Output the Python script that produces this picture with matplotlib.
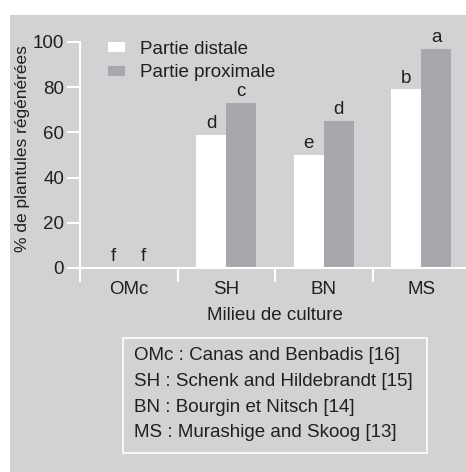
import matplotlib.pyplot as plt
from matplotlib.patches import Rectangle, Patch
import numpy as np

plt.rcParams['font.family'] = ['Liberation Sans', 'DejaVu Sans']

categories = ['OMc', 'SH', 'BN', 'MS']
distale = [0, 59, 50, 79]
proximale = [0, 73, 65, 97]
lettres_distale = ['f', 'd', 'e', 'b']
lettres_proximale = ['f', 'c', 'd', 'a']
references = ['OMc : Canas and Benbadis [16]',
              'SH : Schenk and Hildebrandt [15]',
              'BN : Bourgin et Nitsch [14]',
              'MS : Murashige and Skoog [13]']

bg = '#d1d2d4'
gris = '#a7a8ab'
txt = '#231f20'
W, H = 466, 472
fs = 13.5

fig = plt.figure(figsize=(W / 100, H / 100), dpi=100)
fig.patch.set_facecolor('white')
fig.patches.append(Rectangle((10 / W, 0), 1, (H - 15) / H, transform=fig.transFigure,
                             facecolor=bg, edgecolor='none', zorder=-1))

ax = fig.add_axes([80 / W, (H - 268) / H, 390 / W, 226 / H])
ax.set_facecolor('none')

x = np.arange(len(categories))
w = 0.31
ax.bar(x - w / 2, distale, w, color='white', zorder=2)
ax.bar(x + w / 2, proximale, w, color=gris, zorder=2)
for i in range(len(categories)):
    ax.text(x[i] - w / 2, distale[i] + 1.2, lettres_distale[i], ha='center', va='bottom',
            fontsize=fs, color=txt, clip_on=False)
    ax.text(x[i] + w / 2, proximale[i] + 1.2, lettres_proximale[i], ha='center', va='bottom',
            fontsize=fs, color=txt, clip_on=False)

ax.set_xlim(-0.5, 3.5)
ax.set_ylim(0, 100)
for s in ['top', 'right']:
    ax.spines[s].set_visible(False)
for s in ['left', 'bottom']:
    ax.spines[s].set_color('white')
    ax.spines[s].set_linewidth(1.5)
    ax.spines[s].set_zorder(3)

ax.set_yticks([0, 20, 40, 60, 80, 100])
ax.tick_params(axis='y', colors='white', labelcolor=txt, labelsize=fs,
               length=9.5, width=1.5, pad=2)
ax.set_xticks([-0.5, 0.5, 1.5, 2.5])
ax.set_xticklabels([])
ax.set_xticks(x, minor=True)
ax.set_xticklabels(categories, minor=True)
ax.tick_params(axis='x', which='major', colors='white', length=10, width=1.5)
ax.tick_params(axis='x', which='minor', length=0, labelcolor=txt, labelsize=fs, pad=9)

fig.text(23 / W, 1 - 149 / H, '% de plantules régénérées', rotation=90,
         ha='center', va='center', fontsize=12.5, color=txt)
fig.text(275 / W, 1 - 315 / H, 'Milieu de culture', ha='center', va='center',
         fontsize=fs, color=txt)

handles = [Patch(facecolor='white', edgecolor='none'), Patch(facecolor=gris, edgecolor='none')]
fig.legend(handles, ['Partie distale', 'Partie proximale'], loc='upper left',
           bbox_to_anchor=(91 / W, 1 - 24 / H), frameon=False, fontsize=fs,
           handlelength=0.9, handleheight=0.45, handletextpad=0.8, labelspacing=0.35,
           labelcolor=txt)

fig.patches.append(Rectangle((123 / W, 1 - 453 / H), 304 / W, 115 / H, transform=fig.transFigure,
                             facecolor='none', edgecolor='white', linewidth=1.2, zorder=1))
for k, r in enumerate(references):
    fig.text(134 / W, 1 - (356 + 25.5 * k) / H, r, ha='left', va='center',
             fontsize=fs, color=txt)

fig.savefig('out.png', dpi=100)
